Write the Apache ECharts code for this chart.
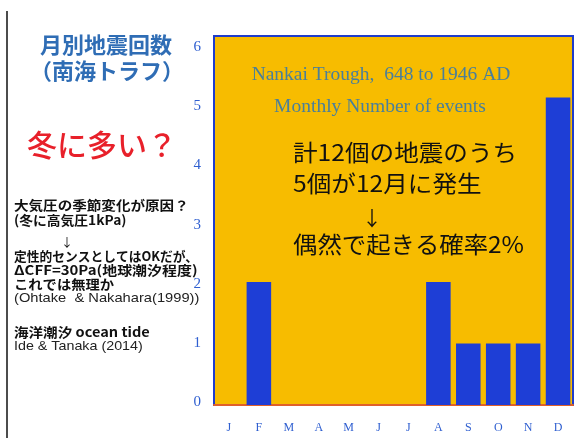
<!DOCTYPE html>
<html><head><meta charset="utf-8">
<script src="https://cdn.jsdelivr.net/npm/echarts@6/dist/echarts.min.js"></script>
<style>html,body{margin:0;padding:0;background:#fff}#c{width:579px;height:438px}</style>
</head><body><div id="c"></div>
<script>
const months = ['J','F','M','A','M','J','J','A','S','O','N','D'];
const counts = [0,2,0,0,0,0,0,2,1,1,1,5];
const yTicks = [0,1,2,3,4,5,6];
const chart = echarts.init(document.getElementById('c'));
const jp = '"Noto Sans CJK JP", sans-serif';
function t(x,y,text,font,fill,sx,align){
  return {type:'text',x:x,y:y,scaleX:sx||1,style:{text:text,font:font,fill:fill,align:align||'left',verticalAlign:'middle'}};
}
const bf = 'bold 13px ' + jp;
chart.setOption({
  animation:false,
  backgroundColor:'#fff',
  grid:{left:214,right:6,top:36,bottom:33,show:true,backgroundColor:'#f7bc00',borderColor:'#1f3ccc',borderWidth:2},
  xAxis:{type:'category',data:months,
    axisLine:{show:true,lineStyle:{color:'#e0602a',width:2}},axisTick:{show:false},
    axisLabel:{color:'#2f5fd0',fontFamily:'"Liberation Serif", serif',fontSize:12,margin:17}},
  yAxis:[
    {type:'value',min:0,max:6,interval:1,axisLabel:{show:false},splitLine:{show:false},axisLine:{show:false},axisTick:{show:false}},
    {type:'value',min:-0.05,max:6.19,position:'left',offset:0,splitLine:{show:false},axisLine:{show:false},axisTick:{show:false},
      axisLabel:{customValues:yTicks,color:'#2f5fd0',fontFamily:'"Liberation Serif", serif',fontSize:15,margin:13}}
  ],
  series:[{type:'bar',data:counts,yAxisIndex:0,barCategoryGap:'18%',itemStyle:{color:'#1e3ed6'}}],
  graphic:[
    {type:'line',shape:{x1:7,y1:11,x2:7,y2:438},style:{stroke:'#111',lineWidth:1.5}},
    t(40,45,'月別地震回数','bold 22px ' + jp,'#2f6db5'),
    t(30,71,'（南海トラフ）','bold 22px ' + jp,'#2f6db5'),
    t(27,145,'冬に多い？','500 30px ' + jp,'#e8202a'),
    t(14,205,'大気圧の季節変化が原因？',bf,'#111',1.12),
    t(14,220,'(冬に高気圧1kPa)',bf,'#111',1.06),
    t(61,242,'↓','12px ' + jp,'#111'),
    t(14,256,'定性的センスとしてはOKだが、',bf,'#111',0.98),
    t(14,270,'ΔCFF=30Pa(地球潮汐程度)',bf,'#111',1.15),
    t(14,284,'これでは無理か',bf,'#111',1.1),
    t(14,298,'(Ohtake  & Nakahara(1999))','13px "Liberation Sans", sans-serif','#222',1.13),
    t(14,332,'海洋潮汐 ocean tide',bf,'#111',1.12),
    t(14,346,'Ide & Tanaka (2014)','13px "Liberation Sans", sans-serif','#222',1.1),
    t(381,75,'Nankai Trough,  648 to 1946 AD','19.5px "Liberation Serif", serif','#4a7f9a',1,'center'),
    t(380,107,'Monthly Number of events','19.5px "Liberation Serif", serif','#4a7f9a',1,'center'),
    t(293,152,'計12個の地震のうち','23px ' + jp,'#111',1.07),
    t(293,183,'5個が12月に発生','23px ' + jp,'#111',1.07),
    t(362,218,'↓','20px ' + jp,'#111'),
    t(293,244,'偶然で起きる確率2%','23px ' + jp,'#111',1.06)
  ]
});
</script></body></html>
